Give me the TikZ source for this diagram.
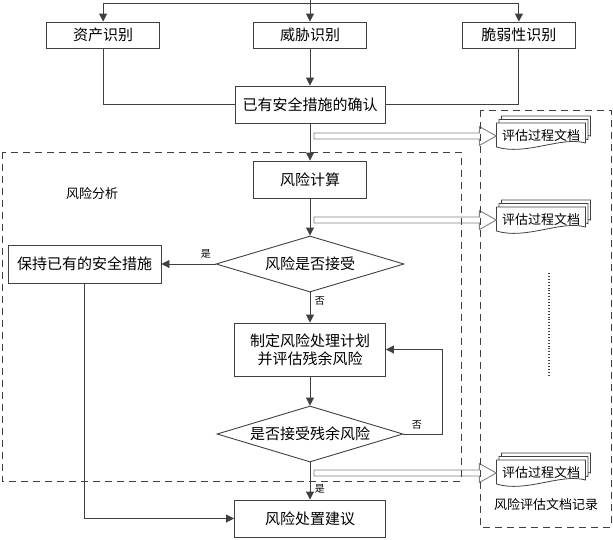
\documentclass[tikz,border=0pt]{standalone}
\usepackage{fontspec}
\setmainfont{Noto Sans CJK SC}
\usetikzlibrary{positioning, shapes.geometric, arrows.meta, calc}

% stack of three pages with a wavy bottom, text node named #1
\newcommand{\docstack}[2]{%
\begin{scope}[shift={(#2)}]
\foreach \o in {2,1,0}
  \filldraw[docpaper, shift={(2.5*\o,-3.5*\o)}] (-44.5,-13) -- (44.5,-13) -- (44.5,7) .. controls (20,0) and (-15,20) .. (-44.5,11) -- cycle;
\node[doctext] (#1) at (0,0) {评估过程文档};
\end{scope}}

% hollow arrow from the axis below node #1 to document #2
\newcommand{\hollowarrow}[2]{%
\draw[docarrow] ($(#1.south |- #2.west)+(4,-3)$) -- ($(#2.west)+(-17,-3)$) -- ($(#2.west)+(-17,-9.5)$) -- (#2.west) -- ($(#2.west)+(-17,9.5)$) -- ($(#2.west)+(-17,3)$) -- ($(#1.south |- #2.west)+(4,3)$) -- cycle;}

\begin{document}
\begin{tikzpicture}[x=1pt, y=-1pt,
box/.style={rectangle, draw=black!75, line width=0.9pt, minimum width=113, minimum height=26, inner sep=0, font=\fontsize{15}{18}\selectfont},
decision/.style={diamond, draw=black!75, line width=0.9pt, minimum width=188, minimum height=56, inner sep=0, aspect=3, font=\fontsize{15}{18}\selectfont},
line/.style={draw=black!75, line width=0.9pt},
flow/.style={line, -{Triangle[length=8pt,width=8pt]}},
docarrow/.style={draw=black!50, line width=0.9pt, fill=white},
docpaper/.style={draw=black!75, line width=0.8pt, fill=white},
doctext/.style={minimum width=89, inner sep=0, font=\fontsize{13}{15}\selectfont},
region/.style={draw=black!75, line width=0.9pt, dash pattern=on 7pt off 5pt},
tag/.style={font=\fontsize{10}{12}\selectfont}
]
\useasboundingbox (0,0) rectangle (613,539);

%Nodes
\coordinate (top) at (310,0);
\node[box]      (threat)                       at (310,35)    {威胁识别};
\node[box]      (asset)   [left=93pt of threat]               {资产识别};
\node[box]      (vuln)    [right=95pt of threat]              {脆弱性识别};
\node[box, minimum width=150, minimum height=37] (confirm) at (310,104.5) {已有安全措施的确认};
\node[box, minimum height=37]  (calc)          at (310,179.5) {风险计算};
\node[decision] (accept)                       at (310,264)   {风险是否接受};
\node[box, minimum width=153, minimum height=38] (keep) at (84.5,264) {保持已有的安全措施};
\node[box, minimum width=151, minimum height=53, align=center] (plan) at (310,349.5) {制定风险处理计划\\并评估残余风险};
\node[decision, minimum width=186] (residual)  at (310,434)   {是否接受残余风险};
\node[box, minimum width=151, minimum height=37] (advise) at (310,518.5) {风险处置建议};

\docstack{doc1}{541,136}
\docstack{doc2}{541,220}
\docstack{doc3}{541,473}

\node[font=\fontsize{13}{15}\selectfont] (analysis) at (92,194) {风险分析};
\node[font=\fontsize{13}{15}\selectfont] (records)  at (546,505) {风险评估文档记录};

%Lines
\draw[line] (top) -- (310,3);
\draw[flow] (310,3) -| (asset.north);
\draw[flow] (310,3) -- (threat.north);
\draw[flow] (310,3) -| (vuln.north);
\draw[line] (asset.south) |- (confirm.west);
\draw[line] (vuln.south) |- (confirm.east);
\draw[flow] (threat.south) -- (confirm.north);
\draw[flow] (confirm.south) -- (calc.north);
\draw[flow] (calc.south) -- (accept.north);
\draw[flow] (accept.west) -- node[tag, above=2pt, pos=0.18] {是} (keep.east);
\draw[flow] (accept.south) -- node[tag, right=1pt, pos=0.27] {否} (plan.north);
\draw[flow] (plan.south) -- (residual.north);
\draw[flow] (residual.east) -- node[tag, above=1pt, pos=0.35] {否} (442,434) |- (plan.east);
\draw[flow] (residual.south) -- node[tag, right=1pt, pos=0.72] {是} (advise.north);
\draw[flow] (keep.south) |- (advise.west);

\hollowarrow{confirm}{doc1}
\hollowarrow{calc}{doc2}
\hollowarrow{residual}{doc3}

\draw[line, dotted, line width=1.2pt] (549,273) -- (549,377);

\draw[region] (2,152) rectangle (461,481);
\draw[region] (480,110) rectangle (611,527);
\end{tikzpicture}
\end{document}
